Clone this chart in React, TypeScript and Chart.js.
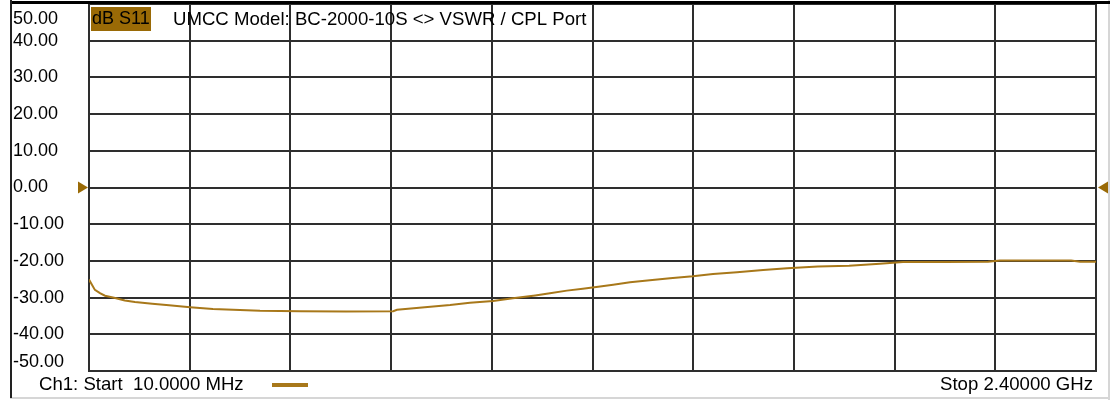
import React, { useEffect, useRef } from "react";
import { Chart, registerables } from "chart.js";

Chart.register(...registerables);

// Frequency (MHz) of each read point
const freqMHz = [
  10, 17, 24, 36, 48, 72, 95, 119, 160, 200, 250, 304, 416, 511, 620, 732, 741,
  807, 867, 914, 969, 1016, 1069, 1104, 1144, 1182, 1223, 1254, 1294, 1341,
  1389, 1443, 1491, 1548, 1610, 1667, 1740, 1814, 1887, 1942, 2042, 2144, 2172,
  2243, 2341, 2362, 2400,
];
// S11 magnitude (dB)
const s11dB = [
  -25.1, -26.5, -27.9, -28.8, -29.5, -30.1, -30.8, -31.2, -31.7, -32.1, -32.6,
  -33.1, -33.6, -33.7, -33.8, -33.7, -33.3, -32.6, -32.0, -31.4, -30.9, -30.2,
  -29.4, -28.8, -28.1, -27.6, -27.0, -26.5, -25.8, -25.3, -24.7, -24.2, -23.6,
  -23.1, -22.5, -22.0, -21.5, -21.3, -20.8, -20.3, -20.3, -20.2, -19.9, -19.9,
  -19.9, -20.2, -20.2,
];
const yTicks = [50, 40, 30, 20, 10, 0, -10, -20, -30, -40, -50];
const xGridMHz = [10, 249, 488, 727, 966, 1205, 1444, 1683, 1922, 2161, 2400];
const refLevel = 0;

const badgeText = "dB S11";
const titleText = "UMCC Model: BC-2000-10S <> VSWR / CPL Port";
const startText = "Ch1: Start  10.0000 MHz";
const stopText = "Stop 2.40000 GHz";

const TRACE = "#a8781a";
const BADGE = "#9a6a06";
const GRID = "#2e2e2e";
const FONT = "18px 'Liberation Sans', Arial, sans-serif";
const FONT_WIDE = "18.6px 'Liberation Sans', Arial, sans-serif";

const framePlugin = {
  id: "frame",
  beforeDraw(chart: any) {
    const ctx = chart.ctx;
    ctx.save();
    ctx.fillStyle = "#ffffff";
    ctx.fillRect(0, 0, chart.width, chart.height);
    ctx.restore();
  },
  afterDraw(chart: any) {
    const ctx = chart.ctx;
    const y = chart.scales.y;
    const area = chart.chartArea;
    ctx.save();
    // outer frame
    ctx.fillStyle = "#d6d6d6";
    ctx.fillRect(1108, 0, 2, 400);
    ctx.fillRect(10, 397, 1100, 2);
    ctx.fillStyle = "#000000";
    ctx.fillRect(10, 1, 1100, 3);
    ctx.fillStyle = "#222222";
    ctx.fillRect(10, 0, 2, 398);

    // y labels
    ctx.font = FONT;
    ctx.fillStyle = "#000000";
    ctx.textAlign = "left";
    ctx.textBaseline = "middle";
    y.ticks.forEach((t: any) => {
      let py = y.getPixelForValue(t.value);
      py = Math.max(19, Math.min(362, py));
      ctx.fillText(t.value.toFixed(2), 13, py);
    });

    // badge + title
    ctx.fillStyle = BADGE;
    ctx.fillRect(91, 7, 60, 24);
    ctx.fillStyle = "#000000";
    ctx.fillText(badgeText, 92, 19);
    ctx.font = FONT_WIDE;
    ctx.fillText(titleText, 173, 20);

    // bottom texts
    ctx.fillText(startText, 39, 385);
    ctx.textAlign = "right";
    ctx.fillText(stopText, 1093, 385);
    ctx.fillStyle = TRACE;
    ctx.fillRect(272, 383, 36, 4);

    // reference markers
    const ry = y.getPixelForValue(refLevel);
    ctx.fillStyle = BADGE;
    ctx.beginPath();
    ctx.moveTo(area.left - 11, ry - 6);
    ctx.lineTo(area.left - 1, ry);
    ctx.lineTo(area.left - 11, ry + 6);
    ctx.closePath();
    ctx.fill();
    ctx.beginPath();
    ctx.moveTo(area.right + 12, ry - 6);
    ctx.lineTo(area.right + 2, ry);
    ctx.lineTo(area.right + 12, ry + 6);
    ctx.closePath();
    ctx.fill();
    ctx.restore();
  },
};

export default function App() {
  const ref = useRef<HTMLCanvasElement | null>(null);
  useEffect(() => {
    if (!ref.current) return;
    const chart = new Chart(ref.current, {
      type: "line",
      data: {
        datasets: [
          {
            data: freqMHz.map((f, i) => ({ x: f, y: s11dB[i] })),
            borderColor: TRACE,
            borderWidth: 2,
            pointRadius: 0,
            tension: 0,
            fill: false,
          },
        ],
      },
      options: {
        animation: false,
        responsive: true,
        maintainAspectRatio: false,
        layout: { padding: { left: 89, right: 22, top: 4, bottom: 29 } },
        plugins: { legend: { display: false }, tooltip: { enabled: false } },
        scales: {
          x: {
            type: "linear",
            min: 10,
            max: 2400,
            afterBuildTicks: (s: any) => {
              s.ticks = xGridMHz.map((v) => ({ value: v }));
            },
            afterFit: (s: any) => {
              s.height = 0;
            },
            ticks: { display: false },
            grid: { color: GRID, lineWidth: 2, drawTicks: false },
            border: { display: true, color: GRID, width: 2 },
          },
          y: {
            type: "linear",
            min: -50,
            max: 50,
            afterBuildTicks: (s: any) => {
              s.ticks = yTicks.map((v) => ({ value: v }));
            },
            afterFit: (s: any) => {
              s.width = 0;
            },
            ticks: { display: false },
            grid: { color: GRID, lineWidth: 2, drawTicks: false },
            border: { display: true, color: GRID, width: 2 },
          },
        },
      },
      plugins: [framePlugin],
    } as any);
    return () => chart.destroy();
  }, []);
  return (
    <div
      style={{
        position: "absolute",
        left: 0,
        top: 0,
        width: 1118,
        height: 400,
        background: "#fff",
      }}
    >
      <canvas ref={ref} />
    </div>
  );
}
